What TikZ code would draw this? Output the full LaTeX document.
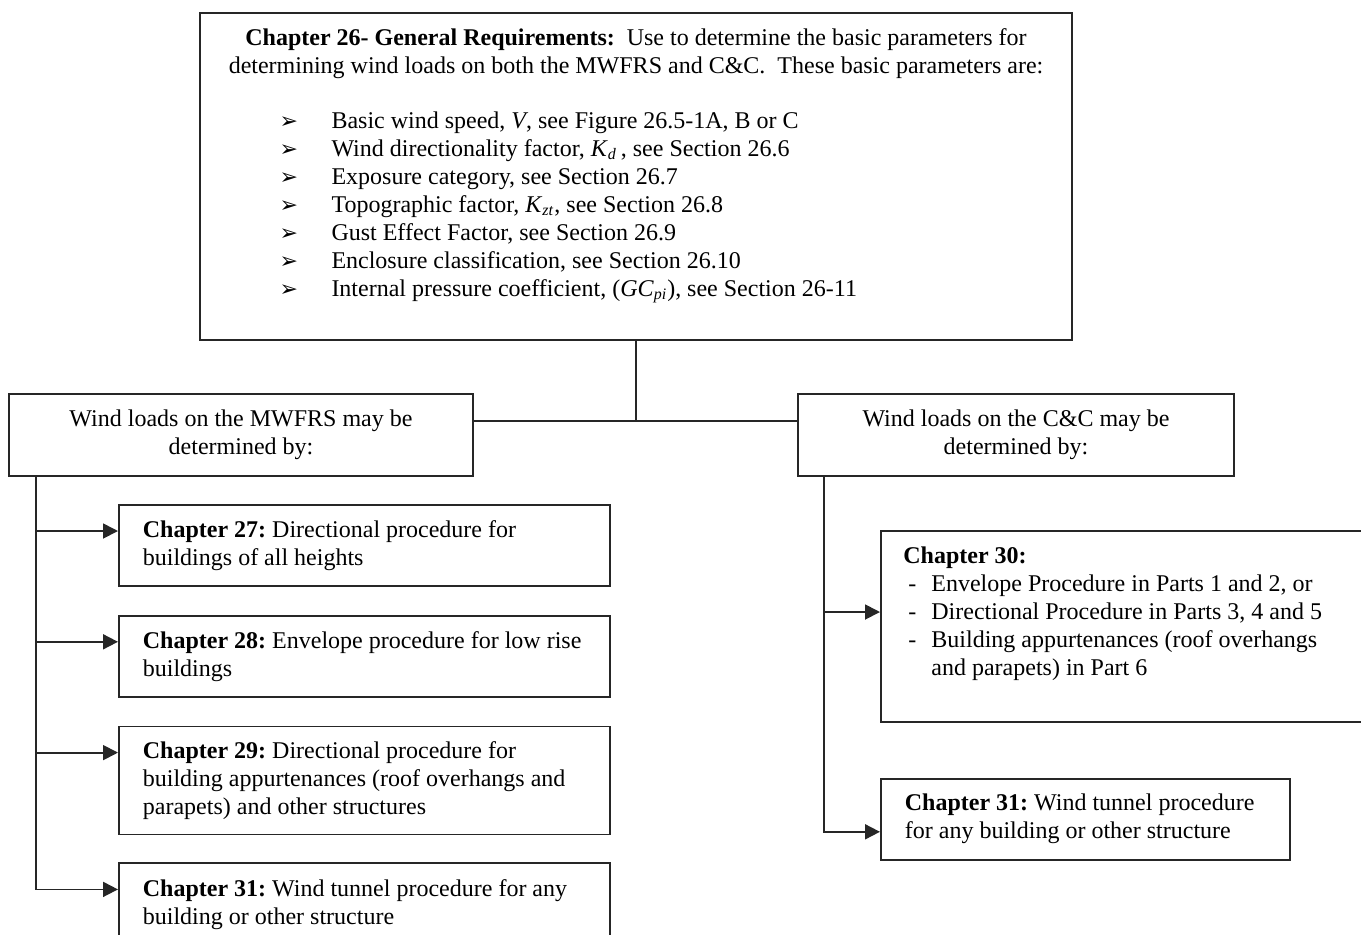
\documentclass[tikz,border=0pt]{standalone}
\usepackage{fontspec}
\setmainfont{Liberation Serif}
\newfontfamily\symfont{DejaVu Sans}
\usetikzlibrary{positioning, arrows.meta}

\newcommand{\param}[1]{\makebox[26pt][l]{\symfont\fontsize{11pt}{14pt}\selectfont ➢}#1}
\newcommand{\dashitem}[1]{\hspace*{2.5pt}\makebox[11.5pt][l]{-}#1}

\tikzset{
  box/.style={draw=black!85, line width=0.9pt},
  chapbox/.style={box, align=flush left, text width=221.5pt, inner xsep=12pt, inner ysep=0pt, minimum width=245.5pt},
  wire/.style={draw=black!85, line width=0.9pt},
  link/.style={wire, -{Triangle[length=7.5pt,width=7.5pt]}}
}

\begin{document}
\frenchspacing
\begin{tikzpicture}[x=0.5pt, y=-0.5pt, font=\fontsize{12pt}{14pt}\selectfont]

   \path[use as bounding box, clip] (0,0) rectangle (1361,934);

   % general requirements
   \node[box, minimum width=436pt, minimum height=163.5pt] (gen) at (636,176.5) {};
   \node[inner sep=0pt, align=center, below=8pt of gen.north] (head)
     {\textbf{Chapter 26- General Requirements:}\ \ Use to determine the basic parameters for\\
      determining wind loads on both the MWFRS and C\&C.\ \ These basic parameters are:};
   \node[inner sep=0pt, align=left, below right=49.5pt and 40pt of gen.north west] (params)
     {\param{Basic wind speed, \textit{V}, see Figure 26.5-1A, B or C}\\
      \param{Wind directionality factor, \textit{K}\textsubscript{\textit{d}}\,, see Section 26.6}\\
      \param{Exposure category, see Section 26.7}\\
      \param{Topographic factor, \textit{K}\textsubscript{\textit{zt}}, see Section 26.8}\\
      \param{Gust Effect Factor, see Section 26.9}\\
      \param{Enclosure classification, see Section 26.10}\\
      \param{Internal pressure coefficient, (\textit{GC}\textsubscript{\textit{pi}}), see Section 26-11}};

   \node[box, minimum width=232pt, minimum height=41pt, align=center] (mwfrs) at (241,435)
     {Wind loads on the MWFRS may be\\determined by:};
   \node[box, minimum width=218pt, minimum height=41pt, align=center] (cc) at (1016,435)
     {Wind loads on the C\&C may be\\determined by:};

   % MWFRS chapters
   \node[chapbox, minimum height=40.5pt, anchor=north west] (ch27) at (118,504)
     {\textbf{Chapter 27:} Directional procedure for\\buildings of all heights};
   \node[chapbox, minimum height=40.5pt, below=14pt of ch27] (ch28)
     {\textbf{Chapter 28:} Envelope procedure for low rise\\buildings};
   \node[chapbox, minimum height=54pt, below=14pt of ch28] (ch29)
     {\textbf{Chapter 29:} Directional procedure for\\building appurtenances (roof overhangs and\\parapets) and other structures};
   \node[chapbox, minimum height=41pt, below=13.5pt of ch29] (ch31m)
     {\textbf{Chapter 31:} Wind tunnel procedure for any\\building or other structure};

   % C&C chapters
   \node[box, minimum width=247.5pt, minimum height=95.5pt, anchor=north west] (ch30) at (880,530) {};
   \node[inner sep=0pt, align=left, below right=8pt and 11.5pt of ch30.north west] (ch30txt)
     {\textbf{Chapter 30:}\\
      \dashitem{Envelope Procedure in Parts 1 and 2, or}\\
      \dashitem{Directional Procedure in Parts 3, 4 and 5}\\
      \dashitem{Building appurtenances (roof overhangs}\\
      \hspace*{14pt}and parapets) in Part 6};
   \node[box, align=flush left, text width=180.5pt, inner xsep=12pt, inner ysep=0pt, minimum height=40.5pt,
         below=27.5pt of ch30.south west, anchor=north west] (ch31c)
     {\textbf{Chapter 31:} Wind tunnel procedure\\for any building or other structure};

   % connectors
   \coordinate (hub) at ([yshift=7pt]mwfrs.east);
   \draw[wire] (gen.south) -- (gen.south |- hub);
   \draw[wire] (hub) -- ([yshift=7pt]cc.west);

   \coordinate (trunkL) at ([xshift=14pt]mwfrs.south west);
   \coordinate (trunkR) at ([xshift=13.5pt]cc.south west);
   \foreach \n in {27,28,29,31m}
     \coordinate (in\n) at ([yshift=-13.5pt]ch\n.north west);
   \coordinate (in30) at ([yshift=-41pt]ch30.north west);
   \coordinate (in31c) at ([yshift=-27pt]ch31c.north west);

   \draw[link] (trunkL) |- (in31m);
   \foreach \n in {27,28,29}
     \draw[link] (trunkL |- in\n) -- (in\n);
   \draw[link] (trunkR) |- (in31c);
   \draw[link] (trunkR |- in30) -- (in30);

\end{tikzpicture}
\end{document}
